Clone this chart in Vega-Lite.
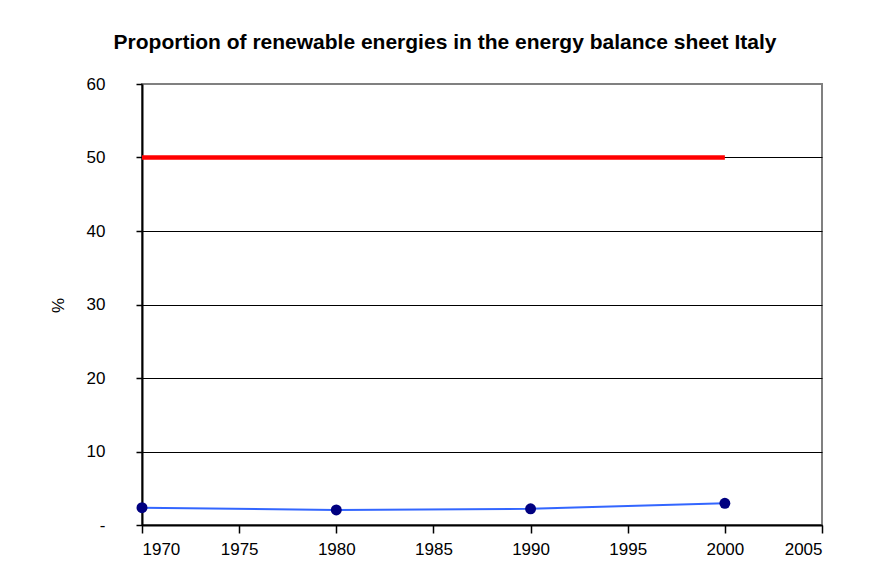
{
  "$schema": "https://vega.github.io/schema/vega-lite/v6.json",
  "width": 680,
  "height": 441,
  "autosize": {"type": "none"},
  "padding": {"left": 142, "top": 84, "right": 64, "bottom": 52},
  "background": "white",
  "title": {
    "text": "Proportion of renewable energies in the energy balance sheet Italy",
    "font": "Liberation Sans",
    "fontSize": 21,
    "fontWeight": "bold",
    "color": "black",
    "anchor": "middle",
    "dx": -37,
    "offset": 22
  },
  "config": {
    "view": {"stroke": "#808080", "strokeWidth": 2},
    "axis": {
      "labelFont": "Liberation Sans",
      "labelFontSize": 17,
      "labelColor": "black",
      "titleFont": "Liberation Sans",
      "titleFontSize": 17,
      "titleFontWeight": "normal",
      "titleColor": "black",
      "domainColor": "black",
      "domainWidth": 2,
      "tickColor": "black",
      "tickWidth": 1.5
    }
  },
  "datasets": {
    "share": [
      {"year": 1970, "value": 2.35},
      {"year": 1980, "value": 2.05},
      {"year": 1990, "value": 2.2},
      {"year": 2000, "value": 2.95}
    ],
    "target": [
      {"year": 1970, "value": 50},
      {"year": 2000, "value": 50}
    ]
  },
  "layer": [
    {
      "data": {"name": "target"},
      "mark": {"type": "line", "color": "#ff0000", "strokeWidth": 4.5},
      "encoding": {
        "x": {
          "field": "year", "type": "quantitative",
          "scale": {"domain": [1970, 2005], "nice": false, "zero": false},
          "axis": {
            "title": null,
            "values": [1970, 1975, 1980, 1985, 1990, 1995, 2000, 2005],
            "format": "d",
            "grid": false,
            "tickSize": 8,
            "labelPadding": 8
          }
        },
        "y": {
          "field": "value", "type": "quantitative",
          "scale": {"domain": [0, 60], "nice": false},
          "axis": {
            "title": "%",
            "titleX": -75,
            "titleY": 221,
            "titleAngle": -90,
            "values": [0, 10, 20, 30, 40, 50, 60],
            "labelExpr": "datum.value === 0 ? '-' : datum.label",
            "grid": true,
            "gridColor": {"condition": {"test": "datum.value === 60", "value": "#808080"}, "value": "#000000"},
            "gridWidth": 1,
            "tickSize": 6,
            "labelPadding": 31
          }
        }
      }
    },
    {
      "data": {"name": "share"},
      "mark": {"type": "line", "color": "#3366ff", "strokeWidth": 2},
      "encoding": {
        "x": {"field": "year", "type": "quantitative"},
        "y": {"field": "value", "type": "quantitative"}
      }
    },
    {
      "data": {"name": "share"},
      "mark": {"type": "circle", "color": "#000080", "opacity": 1, "size": 120},
      "encoding": {
        "x": {"field": "year", "type": "quantitative"},
        "y": {"field": "value", "type": "quantitative"}
      }
    }
  ]
}
